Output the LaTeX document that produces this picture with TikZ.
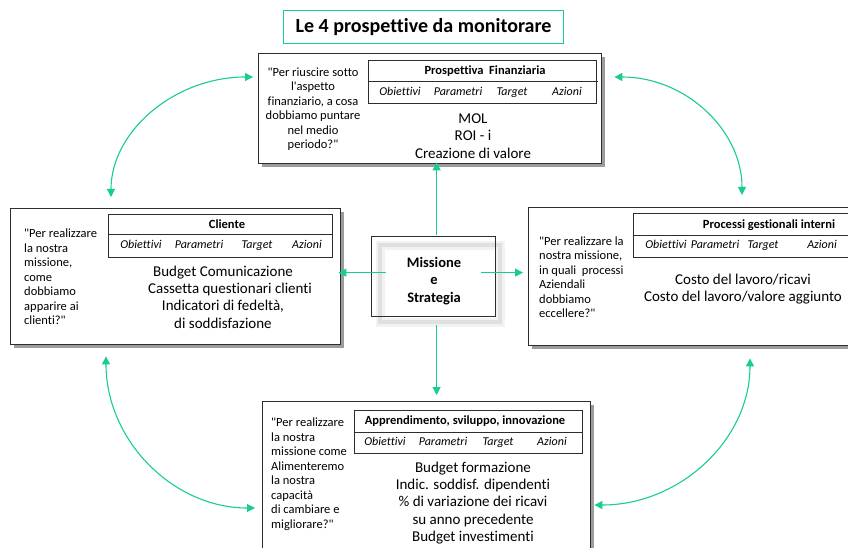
\documentclass[tikz,border=0pt]{standalone}
\usepackage{fontspec}
\setmainfont{Carlito}[Ligatures={TeXOff,CommonOff}]
\usetikzlibrary{arrows.meta,shadows}
\definecolor{teal1}{RGB}{24,204,150}
\definecolor{boxline}{RGB}{45,45,45}
\tikzset{
  panel/.style={draw=boxline, line width=1.4pt, fill=white, anchor=north west, inner sep=0pt,
     drop shadow={shadow xshift=3pt, shadow yshift=-3pt, opacity=0.55, fill=black!70}},
  tbl/.style={draw=boxline, line width=1pt},
  conn/.style={draw=teal1, line width=1.1pt, {Triangle[length=8pt,width=8pt]}-{Triangle[length=8pt,width=8pt]}},
  ray/.style={draw=teal1, line width=1.1pt, -{Triangle[length=8pt,width=8pt]}},
  question/.style={font=\fontsize{12.5}{14.5}\selectfont, inner sep=0pt},
  values/.style={font=\fontsize{15}{17.3}\selectfont, inner sep=0pt, align=center},
  colhead/.style={font=\fontsize{12}{14}\selectfont\itshape, inner sep=0pt, text height=8.5pt, text depth=3pt},
  tblhead/.style={font=\fontsize{12.5}{14}\selectfont\bfseries, inner sep=0pt, text height=8.5pt, text depth=3pt},
}
\begin{document}
\begin{tikzpicture}[x=1pt,y=-1pt]
\useasboundingbox (0,0) rectangle (848,548);
\fill[white] (0,0) rectangle (848,548);

% title
\node[draw=teal1, line width=1pt, anchor=north west, minimum width=280pt, minimum height=33pt, inner sep=0pt] (title) at (283,10) {};
\node[font=\fontsize{20}{22}\selectfont\bfseries] (titletext) at (title.center) {Le 4 prospettive da monitorare};

% panels
\node[panel, minimum width=343pt, minimum height=110pt] (top) at (258,53) {};
\node[panel, minimum width=330pt, minimum height=136pt] (left) at (10,208) {};
\node[panel, minimum width=345pt, minimum height=138pt] (right) at (528,207) {};
\node[panel, minimum width=328pt, minimum height=165pt] (bottom) at (262,401) {};

% centre box with glow
\draw[gray!10, line width=9pt] (380,245) rectangle (500,322);
\draw[gray!24, line width=3.5pt] (380,245) rectangle (500,322);
\node[draw=boxline, line width=1.2pt, anchor=north west, minimum width=124pt, minimum height=80pt, inner sep=0pt] (centre) at (371,236) {};
\node[font=\fontsize{14.5}{17.5}\selectfont\bfseries, align=center] (centretext) at (434,281) {Missione\\e\\Strategia};

% ---- top panel table
\draw[tbl] (368,61) rectangle (596,104);
\draw[tbl] (368,82) -- (598,82);
\node[tblhead] (h1) at (485,72) {Prospettiva~ Finanziaria};
\node[colhead] (c11) at (400,93) {Obiettivi};
\node[colhead] (c12) at (458,93) {Parametri};
\node[colhead] (c13) at (512,93) {Target};
\node[colhead] (c14) at (567,93) {Azioni};
\node[question, align=center] (q1) at (313,109) {"Per riuscire sotto\\l'aspetto\\finanziario, a cosa\\dobbiamo puntare\\nel medio\\periodo?"};
\node[values] (v1) at (473,136) {MOL\\ROI - i\\Creazione di valore};

% ---- left panel table
\draw[tbl] (108,214) rectangle (332,257);
\draw[tbl] (108,234) -- (332,234);
\node[tblhead] (h2) at (227,226) {Cliente};
\node[colhead] (c21) at (141,246) {Obiettivi};
\node[colhead] (c22) at (199,246) {Parametri};
\node[colhead] (c23) at (257,246) {Target};
\node[colhead] (c24) at (307,246) {Azioni};
\node[question, align=left, anchor=west] (q2) at (24,277) {"Per realizzare\\la nostra\\missione,\\come\\dobbiamo\\apparire ai\\clienti?"};
\node[values] (v2) at (223,297) {Budget Comunicazione\\\hspace*{14pt}Cassetta questionari clienti\\Indicatori di fedeltà,\\di soddisfazione};

% ---- right panel table
\draw[tbl] (633,213) -- (860,213);
\draw[tbl] (633,213) -- (633,257) -- (860,257);
\draw[tbl] (633,235) -- (860,235);
\node[tblhead] (h3) at (769,226) {Processi gestionali interni};
\node[colhead] (c31) at (666,246) {Obiettivi};
\node[colhead] (c32) at (715,246) {Parametri};
\node[colhead] (c33) at (763,246) {Target};
\node[colhead] (c34) at (822,246) {Azioni};
\node[question, align=left, anchor=west] (q3) at (539,277) {"Per realizzare la\\nostra missione,\\in quali~ processi\\Aziendali\\dobbiamo\\eccellere?"};
\node[values] (v3) at (743,289) {Costo del lavoro/ricavi\\Costo del lavoro/valore aggiunto};

% ---- bottom panel table
\draw[tbl] (354,410) rectangle (582,453);
\draw[tbl] (354,432) -- (582,432);
\node[tblhead] (h4) at (465,422) {Apprendimento, sviluppo, innovazione};
\node[colhead] (c41) at (385,443) {Obiettivi};
\node[colhead] (c42) at (443,443) {Parametri};
\node[colhead] (c43) at (498,443) {Target};
\node[colhead] (c44) at (552,443) {Azioni};
\node[question, align=left, anchor=west] (q4) at (271,474) {"Per realizzare\\la nostra\\missione come\\Alimenteremo\\la nostra\\capacità\\di cambiare e\\migliorare?"};
\node[values] (v4) at (473,503) {Budget formazione\\Indic. soddisf. dipendenti\\\% di variazione dei ricavi\\su anno precedente\\Budget investimenti};

% ---- straight arrows from centre
\draw[ray, shorten >=-2pt] ([shift={(3,-1)}]centre.north) coordinate (su) -- (su |- top.south);
\draw[ray, shorten >=-3pt] ([shift={(15,-4)}]centre.west) coordinate (sl) -- (sl -| left.east);
\draw[ray, shorten >=5pt] ([shift={(-15,-4)}]centre.east) coordinate (sr) -- (sr -| right.west);
\draw[ray, shorten >=6pt] ([shift={(3,8)}]centre.south) coordinate (sd) -- (sd |- bottom.north);

% ---- curved double arrows
\draw[conn] ([shift={(101,-11)}]left.north west) .. controls +(0,-66) and +(-78,0) .. ([shift={(-5,24)}]top.north west);
\draw[conn] ([shift={(12,24)}]top.north east) .. controls +(71,0) and +(0,-65) .. ([shift={(214,-12)}]right.north west);
\draw[conn] ([shift={(96,11)}]left.south west) .. controls +(0,84) and +(-82,0) .. ([shift={(-7,107)}]bottom.north west);
\draw[conn] ([shift={(222,12)}]right.south west) .. controls +(0,81) and +(86,0) .. ([shift={(3,104)}]bottom.north east);
\end{tikzpicture}
\end{document}
